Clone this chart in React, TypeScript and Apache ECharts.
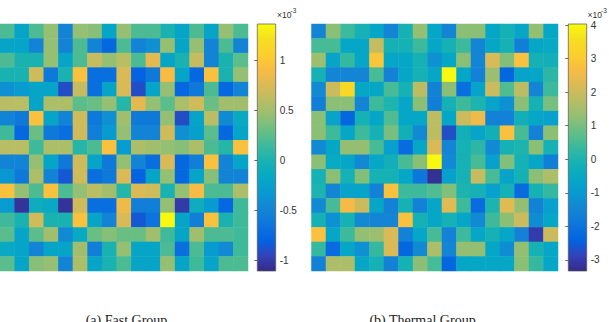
import React, { useEffect, useRef } from "react";
import * as echarts from "echarts";

// Values in units of 1e-3
const CELL_IDS = ["1","2","3","4","5","6","7","8","9","10","11","12","13","14","15","16","17"];

const FAST_RANGE = [-1.103, 1.364];
const THERMAL_RANGE = [-3.33, 4.03];
const FAST_TICKS = [-1, -0.5, 0, 0.5, 1];
const THERMAL_TICKS = [-3, -2, -1, 0, 1, 2, 3, 4];
const CAPTIONS = ["(a) Fast Group", "(b) Thermal Group"];

const FAST: number[][] = [
  [0.2, -0.2, 0.2, 0.45, -0.5, 0.45, 0.4, -0.2, 0.45, 0.2, 0.2, 0.0, -0.2, 0.2, -0.2, 0.45, 0.2],
  [-0.2, -0.2, -0.5, 0.45, -0.5, 0.2, -0.5, -0.75, 0.2, -0.5, -0.4, 0.45, -0.2, 0.45, -0.5, 0.2, -0.5],
  [0.2, 0.0, 0.0, 0.45, -0.2, 0.2, 0.65, 0.45, 0.6, 0.2, 0.8, -0.2, 0.0, 0.65, -0.5, 0.0, 0.25],
  [0.0, 0.0, 0.7, -0.6, 0.0, 0.95, -0.7, -0.7, 0.75, -0.8, -0.6, 0.9, -0.2, -0.75, 0.95, 0.0, 0.45],
  [-0.4, -0.3, -0.2, -0.2, -0.9, 0.65, -0.7, -0.2, 0.75, -0.9, -0.2, 0.45, -0.75, -0.6, 0.2, -0.75, -0.5],
  [0.6, 0.6, -0.2, 0.55, 0.55, 0.25, 0.3, 0.45, 0.05, 0.8, 0.45, 0.25, 0.55, 0.7, 0.3, 0.5, 0.5],
  [-0.5, -0.6, 0.95, -0.2, -0.5, 0.7, -0.6, -0.4, 0.5, -0.6, -0.6, 0.45, -0.9, -0.2, 0.6, -0.45, -0.15],
  [0.15, -0.75, 0.3, -0.6, -0.7, 0.7, -0.55, -0.3, 0.45, -0.5, -0.5, 0.7, -0.4, -0.25, 0.25, -0.75, -0.2],
  [0.6, 0.6, 0.15, 0.55, 0.55, 0.05, 0.2, 0.95, -0.3, 0.55, 0.5, 0.45, 0.4, 0.55, 0.2, 0.05, 0.95],
  [-0.5, -0.5, 0.45, -0.2, -0.6, 0.7, -0.2, -0.6, 0.45, -0.5, -0.7, 0.75, -0.75, -0.55, 0.95, -0.5, -0.2],
  [-0.35, -0.6, 0.55, -0.5, -0.85, 0.7, -0.7, -0.6, 0.75, -0.8, -0.2, 0.45, -0.75, -0.2, 0.4, -0.5, -0.5],
  [0.95, 0.45, 0.2, 0.95, 0.2, 0.45, 0.6, 0.5, 0.05, 0.75, 0.7, 0.0, 0.45, 0.9, 0.2, 0.2, 0.55],
  [-0.3, -1.05, -0.1, -0.15, -1.05, 0.7, -0.7, -0.7, 0.85, -0.55, -0.55, 0.45, -1.0, -0.1, -0.3, -0.75, 0.15],
  [0.15, 0.0, 0.7, 0.0, 0.0, 0.95, -0.2, -0.5, 0.75, -0.85, -0.65, 1.35, -0.2, -0.55, 0.95, 0.0, 0.15],
  [0.25, -0.2, 0.25, 0.5, -0.45, -0.15, 0.3, 0.4, 0.3, 0.3, 0.5, 0.15, -0.2, 0.5, 0.2, 0.2, 0.15],
  [-0.15, -0.2, -0.5, -0.2, -0.2, 0.5, -0.55, 0.0, 0.45, -0.2, -0.2, 0.2, -0.7, 0.2, -0.3, -0.45, 0.15],
  [0.25, -0.2, 0.4, 0.45, -0.5, 0.55, -0.2, 0.0, 0.2, -0.2, -0.2, 0.45, -0.2, 0.15, -0.2, 0.2, 0.2],
];

const THERMAL: number[][] = [
  [-1.5, 1.2, 0.4, -0.1, -0.6, -1.5, -0.1, 1.3, -0.6, -1.5, 1.2, 1.2, -0.6, -0.1, -0.6, 1.3, -0.6],
  [0.5, 0.5, -0.6, -0.6, 1.9, -0.1, -0.1, 0.4, -0.6, -0.1, 0.4, -1.5, -0.6, -0.1, -1.7, -0.6, -0.5],
  [1.4, -0.7, 0.3, -0.6, 2.9, -0.6, -0.6, -0.1, -1.2, -0.6, 1.2, -1.5, 2.2, 1.1, 2.8, -0.1, -0.2],
  [-0.1, -1.5, -1.5, -1.5, 0.5, -1.6, -0.6, -0.1, -0.6, 4.0, -0.6, -1.6, 1.4, -2.3, -0.7, -0.6, 0.2],
  [-1.4, 2.0, 3.4, -0.6, -0.6, 0.5, -0.1, 1.8, -1.6, 1.2, -2.1, -0.7, 2.0, 0.6, 1.8, -1.5, 0.4],
  [-1.7, 1.2, 1.2, -1.5, 0.4, 0.0, -0.6, 1.2, -1.7, -0.1, 0.4, 0.0, -0.7, -1.2, 1.2, -0.1, 1.0],
  [1.2, -0.7, -2.3, -0.1, -0.6, 0.6, -0.6, -0.6, 1.8, -0.6, 2.0, 2.5, -1.6, -1.6, -0.2, -0.6, -0.8],
  [1.2, 0.4, -0.6, 0.4, -0.1, 1.0, -0.2, -1.4, 1.8, -2.7, -0.2, -0.7, -0.2, 2.8, 0.5, -1.6, 1.2],
  [-1.4, -0.6, 1.3, 1.3, 0.5, -0.8, -2.2, -0.6, 2.2, -1.5, -0.1, 0.2, -1.4, -0.1, 0.0, 1.2, -0.1],
  [1.2, -0.5, -0.6, -1.4, -0.6, -0.2, 0.5, 1.2, 4.0, -1.4, -0.1, 0.5, -0.8, 1.1, -0.1, -0.6, -1.7],
  [-0.1, 1.2, -0.1, 1.1, -0.1, -0.1, -0.6, -1.9, -3.2, -0.8, -0.1, 1.9, 0.5, -0.7, -0.1, 1.2, 1.6],
  [0.0, -1.5, -0.7, -0.7, -1.6, 2.8, 0.4, 0.4, 0.6, 1.1, 0.0, -0.1, -0.8, -0.1, -2.2, -0.1, 0.3],
  [-1.4, 0.5, 2.6, 2.0, -0.6, -1.6, -0.1, -1.6, -0.6, 2.3, 0.4, -2.2, 0.0, 2.3, 1.3, -1.6, -0.8],
  [-0.1, -1.2, -0.1, -1.4, -1.5, -1.5, 2.8, -0.1, -0.6, -0.1, -0.6, -1.4, 0.4, 1.2, 2.0, -1.3, -0.6],
  [2.8, -0.6, 0.4, 1.3, 1.4, 2.2, -1.6, -0.6, 0.5, -1.6, 0.4, -0.6, -0.1, -0.6, -1.6, -3.0, 2.0],
  [0.3, -2.2, -0.6, -1.2, 0.3, 2.2, -2.3, -1.4, 1.6, -1.5, 1.3, 1.3, -0.6, -1.3, 1.3, -0.1, -0.6],
  [-1.6, 1.6, 1.6, -0.6, -0.1, -1.6, -0.1, 1.2, 0.5, -2.3, -0.6, -0.6, -0.6, -0.6, 1.2, 0.3, -0.6],
];

const PARULA = [
  "#352a87", "#3243ba", "#0363e1", "#0d75dc", "#1485d4", "#0998d1", "#06a7c6", "#15b1b4",
  "#38b99e", "#65be86", "#92bf73", "#b7bd64", "#d9ba56", "#f8bb44", "#fcce2e", "#f5de21", "#f9fb0e",
];

function toCells(m: number[][]) {
  const out: number[][] = [];
  m.forEach((row, r) => row.forEach((v, c) => out.push([c, r, v])));
  return out;
}

function gradient() {
  const n = PARULA.length;
  return {
    type: "linear", x: 0, y: 0, x2: 0, y2: 1,
    colorStops: PARULA.map((col, i) => ({ offset: i / (n - 1), color: PARULA[n - 1 - i] })),
  };
}

const TXT = "#333333";

function colorbarY(gridIndex: number, range: number[], ticks: number[]) {
  return {
    type: "value", gridIndex, min: range[0], max: range[1], position: "right",
    axisLine: { show: false },
    splitLine: { show: false },
    axisTick: { show: true, inside: true, length: 3, customValues: ticks, lineStyle: { color: "#444", width: 0.8 } },
    axisLabel: { show: true, customValues: ticks, margin: 4, fontSize: 10, color: TXT, fontFamily: "Liberation Sans" },
  };
}

export default function App() {
  const ref = useRef<HTMLDivElement>(null);
  useEffect(() => {
    if (!ref.current) return;
    const chart = echarts.init(ref.current, null, { renderer: "svg" });
    const catX = (gridIndex: number) => ({ type: "category", gridIndex, data: CELL_IDS, show: false });
    const catY = (gridIndex: number) => ({ type: "category", gridIndex, data: CELL_IDS, inverse: true, show: false });
    const option: any = {
      animation: false,
      backgroundColor: "#ffffff",
      grid: [
        { left: 0, top: 24, width: 248, height: 247 },
        { left: 311.5, top: 24, width: 246.5, height: 247 },
        { left: 257.3, top: 24, width: 18.4, height: 247, show: true, backgroundColor: gradient(), borderColor: "#555", borderWidth: 0.7 },
        { left: 568.3, top: 24, width: 18.4, height: 247, show: true, backgroundColor: gradient(), borderColor: "#555", borderWidth: 0.7 },
      ],
      xAxis: [
        catX(0), catX(1),
        { type: "value", gridIndex: 2, show: false },
        { type: "value", gridIndex: 3, show: false },
      ],
      yAxis: [
        catY(0), catY(1),
        colorbarY(2, FAST_RANGE, FAST_TICKS),
        colorbarY(3, THERMAL_RANGE, THERMAL_TICKS),
      ],
      visualMap: [
        { type: "continuous", seriesIndex: 0, dimension: 2, min: FAST_RANGE[0], max: FAST_RANGE[1], show: false, inRange: { color: PARULA } },
        { type: "continuous", seriesIndex: 1, dimension: 2, min: THERMAL_RANGE[0], max: THERMAL_RANGE[1], show: false, inRange: { color: PARULA } },
      ],
      series: [
        { type: "heatmap", xAxisIndex: 0, yAxisIndex: 0, data: toCells(FAST), itemStyle: { borderWidth: 0 } },
        { type: "heatmap", xAxisIndex: 1, yAxisIndex: 1, data: toCells(THERMAL), itemStyle: { borderWidth: 0 } },
      ],
      graphic: [
        { type: "text", x: 277, y: 10, style: { text: "×10", fontSize: 8.5, fontFamily: "Liberation Sans", fill: TXT } },
        { type: "text", x: 290.5, y: 7, style: { text: "-3", fontSize: 6.5, fontFamily: "Liberation Sans", fill: TXT } },
        { type: "text", x: 587.5, y: 10, style: { text: "×10", fontSize: 8.5, fontFamily: "Liberation Sans", fill: TXT } },
        { type: "text", x: 601, y: 7, style: { text: "-3", fontSize: 6.5, fontFamily: "Liberation Sans", fill: TXT } },
        { type: "text", x: 126.5, y: 313, style: { text: CAPTIONS[0], fontSize: 14, fontFamily: "Liberation Serif", fill: "#1a1a1a", align: "center", verticalAlign: "top" } },
        { type: "text", x: 422.5, y: 313, style: { text: CAPTIONS[1], fontSize: 14, fontFamily: "Liberation Serif", fill: "#1a1a1a", align: "center", verticalAlign: "top" } },
      ],
    };
    chart.setOption(option);
    return () => chart.dispose();
  }, []);
  return <div ref={ref} style={{ position: "fixed", left: 0, top: 0, width: 609, height: 322 }} />;
}
